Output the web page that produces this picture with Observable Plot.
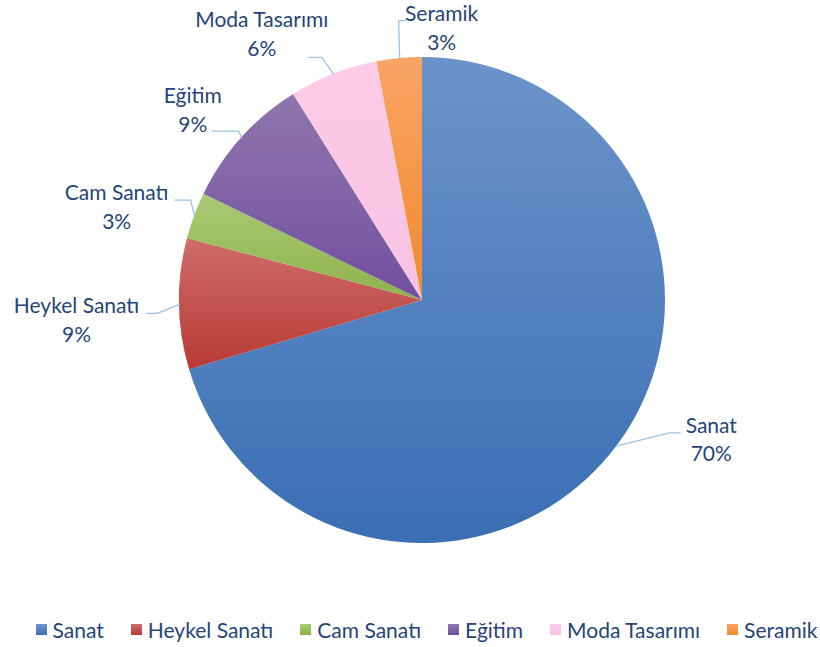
<!DOCTYPE html>
<html><head><meta charset="utf-8">
<script src="https://cdn.jsdelivr.net/npm/d3@7"></script>
<script src="https://cdn.jsdelivr.net/npm/@observablehq/plot@0.6"></script>
<style>
html,body{margin:0;padding:0;background:#fff;}
#wrap{position:relative;width:820px;height:647px;overflow:hidden;}
#legend{position:absolute;left:0;top:617px;width:820px;display:flex;justify-content:center;gap:27px;font-family:Lato,sans-serif;font-size:21px;color:#264478;padding-left:33px;box-sizing:border-box;white-space:nowrap;}
#legend .item{display:flex;align-items:center;gap:6px;}
#legend .sw{width:11px;height:11px;display:inline-block;}
</style></head><body>
<div id="wrap"><div id="chart"></div><div id="legend"></div></div>
<script>
// ---- data ----
const categories = ["Sanat", "Heykel Sanatı", "Cam Sanatı", "Eğitim", "Moda Tasarımı", "Seramik"];
const values = [70.4, 8.7, 3.1, 8.9, 5.9, 3.0];
const topColors = ["#6c94ca", "#cf6d6a", "#aacb76", "#8f76ad", "#fcccE8", "#f9a466"];
const bottomColors = ["#3a6fb4", "#b83935", "#8db24a", "#7150a0", "#f8c2e2", "#f28a2b"];

// ---- layout ----
const W = 820, H = 615, CX = 422, CY = 300, R = 243;
const labelOffsets = [[94, -8], [-103, 14], [-78, -11], [-49, -30], [-72, -42], [42, -32]];
const leaderElbows = [[52, -13], [-22, 9], [-4, -16], [-3, -7], [-12, -17], [-1, -38]];
const leaderEnds = [[63, -13], [-33, 9], [-20, -16], [-30, -7], [-25, -17], [6, -38]];

const total = d3.sum(values);
const pie = d3.pie().sort(null).value(d => d)(values);
const rows = categories.map((c, i) => {
  const a = pie[i], mid = (a.startAngle + a.endAngle) / 2;
  const ax = CX + R * Math.sin(mid), ay = CY - R * Math.cos(mid);
  return {cat: c, value: values[i], i, a0: a.startAngle, a1: a.endAngle, ax, ay,
    pct: Math.round(values[i] / total * 100) + "%"};
});
const labels = rows.map(r => ({x: r.ax + labelOffsets[r.i][0], y: r.ay + labelOffsets[r.i][1], text: r.cat + "\n" + r.pct}));
const leaders = rows.flatMap(r => [
  {i: r.i, x: r.ax, y: r.ay},
  {i: r.i, x: r.ax + leaderElbows[r.i][0], y: r.ay + leaderElbows[r.i][1]},
  {i: r.i, x: r.ax + leaderEnds[r.i][0], y: r.ay + leaderEnds[r.i][1]}
]);

function pieMark(index, scales) {
  const g = d3.create("svg:g");
  const defs = g.append("defs");
  rows.forEach(r => {
    const lg = defs.append("linearGradient").attr("id", "grad" + r.i)
      .attr("x1", 0).attr("y1", 0).attr("x2", 0).attr("y2", 1);
    lg.append("stop").attr("offset", "0%").attr("stop-color", topColors[r.i]);
    lg.append("stop").attr("offset", "100%").attr("stop-color", bottomColors[r.i]);
  });
  const cx = scales.x(CX), cy = scales.y(CY), rr = scales.x(CX + R) - cx;
  const arc = d3.arc().innerRadius(0).outerRadius(rr);
  g.attr("transform", `translate(${cx},${cy})`)
    .selectAll("path").data(rows).join("path")
    .attr("d", r => arc({startAngle: r.a0, endAngle: r.a1}))
    .attr("fill", r => `url(#grad${r.i})`);
  return g.node();
}

const chart = Plot.plot({
  width: W, height: H, margin: 0,
  x: {domain: [0, W], range: [0, W], axis: null},
  y: {domain: [0, H], range: [0, H], axis: null},
  style: {fontFamily: "Lato, sans-serif", background: "white"},
  marks: [
    pieMark,
    Plot.line(leaders, {x: "x", y: "y", z: "i", stroke: "#9dc3e6", strokeWidth: 1.3}),
    Plot.text(labels, {x: "x", y: "y", text: "text", fontSize: 21, lineHeight: 1.37, fill: "#264478", textAnchor: "middle"})
  ]
});
document.getElementById("chart").appendChild(chart);

const leg = d3.select("#legend");
categories.forEach((c, i) => {
  const it = leg.append("div").attr("class", "item");
  it.append("span").attr("class", "sw").style("background", `linear-gradient(${topColors[i]}, ${bottomColors[i]})`);
  it.append("span").text(c);
});
</script>
</body></html>
